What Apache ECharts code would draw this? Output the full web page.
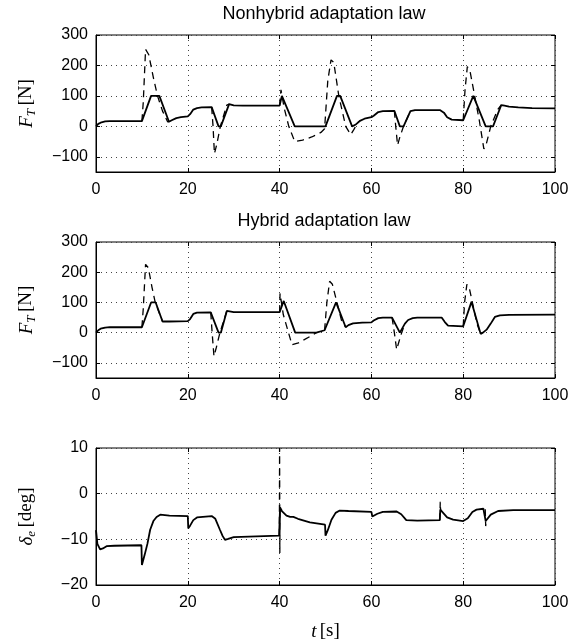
<!DOCTYPE html>
<html>
<head>
<meta charset="utf-8">
<script src="https://cdn.jsdelivr.net/npm/echarts@6/dist/echarts.min.js"></script>
<style>
html, body { margin: 0; padding: 0; background: #fff; }
#chart { width: 581px; height: 644px; }
</style>
</head>
<body>
<div id="chart"></div>
<script>
// time axis ticks (s)
const timeTicks = [0, 20, 40, 60, 80, 100];
const thrustTicks = [-100, 0, 100, 200, 300];
const elevTicks = [-20, -10, 0, 10];

// nonhybrid law: actual thrust (solid) and commanded thrust (dashed, only where it leaves the solid)
const nhThrust = [
    [0, 0], [0.5, 8], [1, 12], [2, 16], [3, 17], [10, 17], [12, 100], [13.8, 100], [15.9, 15],
    [16.5, 20], [17.5, 27], [18.5, 30], [20, 33], [20.5, 40], [21.2, 55], [22, 60], [23, 62],
    [25.2, 63], [26.7, 0], [27.2, 0], [29, 73], [30, 69], [32, 68], [40, 68], [40.5, 100],
    [43.3, 0], [50, 0], [52.5, 100], [53.2, 100], [55.8, 0], [56.5, 5], [57.5, 18], [58.5, 25],
    [60, 30], [60.5, 35], [61.5, 47], [62.5, 50], [65, 51], [66.2, 0], [67, 0], [68.5, 50],
    [69.5, 53], [75, 53], [75.8, 45], [76.5, 30], [77.5, 22], [80, 20], [82.2, 100], [84.9, 0],
    [86.5, 0], [88.3, 70], [89, 68], [90, 65], [92, 62], [95, 60], [100, 59]
];
const nhCommand = [
    [10, 17], [10.3, 80], [10.8, 253], [11.5, 235], [12.5, 160], [13.4, 100], [14.5, 50], [15.6, 15], [15.9, 15], ['-', '-'],
    [25.2, 63], [25.5, 0], [25.8, -90], [26.3, -60], [27.1, 0], [28.5, 70], [29, 73], ['-', '-'],
    [40, 68], [40.3, 120], [41, 60], [42, 0], [43.3, -50], [45, -45], [47, -35], [49, -20], [49.8, -8],
    [50.5, 150], [51.2, 218], [51.8, 210], [52.9, 100], [54.4, 0], [55.5, -27], [56.2, -10], [57, 12], [57.5, 18], ['-', '-'],
    [65, 51], [65.3, 0], [65.7, -62], [66.2, -35], [67, 0], [68.5, 50], ['-', '-'],
    [80, 20], [80.4, 120], [80.9, 196], [81.5, 180], [82.5, 100], [83.5, 20], [84.5, -74], [85, -60],
    [86, 0], [87.5, 55], [88.3, 70]
];

// hybrid law
const hThrust = [
    [0, 0], [0.5, 8], [1, 13], [2, 17], [3, 18], [10, 18], [12, 100], [13, 100], [14.5, 37], [16, 37],
    [20, 38], [20.5, 45], [21.2, 62], [22, 66], [25, 67], [26.7, 0], [27.2, 0], [28.5, 72], [30, 68],
    [40, 68], [40.9, 105], [43.4, 0], [48, 0], [49.8, 8], [52.3, 100], [54.4, 18], [55, 25], [56, 31],
    [58, 33], [60, 34], [60.5, 40], [61.5, 48], [62.5, 50], [64.5, 50], [66.2, 0], [66.6, 0], [67.3, 30],
    [68, 42], [69, 48], [70, 50], [75.3, 50], [76, 35], [76.7, 23], [80, 21], [81.8, 102], [83.8, -4],
    [84.3, 0], [85.1, 10], [86, 30], [86.9, 52], [88, 57], [90, 59], [100, 60]
];
const hCommand = [
    [10, 18], [10.3, 80], [10.8, 226], [11.4, 215], [12.2, 150], [12.9, 100], [14.5, 37], ['-', '-'],
    [25, 67], [25.3, 0], [25.7, -78], [26.2, -50], [27, 0], [28.5, 72], ['-', '-'],
    [40, 68], [40.1, 130], [40.8, 60], [42.7, -40], [44.1, -34], [46.7, -12], [48, 0], ['-', '-'],
    [49.8, 8], [50.3, 100], [50.9, 170], [51.5, 160], [52.5, 100], [53.5, 40], [54.4, 18], ['-', '-'],
    [64.5, 50], [65, 0], [65.5, -56], [66, -30], [66.6, 0], [67.3, 30], ['-', '-'],
    [80, 21], [80.3, 100], [80.8, 160], [81.3, 150], [82, 100], [83, 30], [83.8, -4]
];

// elevator deflection (deg)
const elevator = [
    [0, -8], [0.3, -11], [0.9, -12.2], [1.5, -12], [2.3, -11.5], [4, -11.4], [9.9, -11.3], [10, -15.6],
    [10.6, -13.4], [11.2, -11], [11.8, -7.9], [12.5, -6], [13.2, -5.1], [14, -4.6], [16, -4.8], [20, -4.9],
    [20.1, -7.6], [20.5, -7], [21.2, -5.8], [22, -5.2], [25.2, -4.9], [26, -5.5], [27, -7.9], [27.6, -9.3],
    [28.1, -10.1], [28.8, -9.9], [30, -9.5], [39.9, -9.2], [40.1, -3], [40.5, -3.8], [41.5, -4.8],
    [42.3, -5.1], [43, -5.1], [44, -5.5], [46.6, -6.3], [49.9, -6.8], [50, -9.2], [50.5, -8], [51.3, -5.7],
    [52.2, -4.2], [53.1, -3.7], [55, -3.8], [60, -4], [60.2, -5], [60.5, -5.1], [61.3, -4.4], [62.5, -4],
    [65.5, -3.9], [66.5, -4.5], [67.6, -5.8], [70, -5.9], [74.9, -5.8], [75, -3.5], [75.3, -3.8],
    [76.5, -5.2], [77.8, -5.7], [80, -6], [81, -5.4], [82, -4], [82.9, -3.5], [84.4, -3.3], [84.9, -6],
    [85.2, -5.7], [86, -4.6], [87.6, -3.8], [90.9, -3.6], [100, -3.6]
];
const elevCommand = [
    [39.95, -9.2], [40, 10], [40.05, -13], [40.1, -3], ['-', '-'],
    [74.9, -5.8], [75, -1.8], [75.1, -4], ['-', '-'],
    [84.8, -3.4], [84.9, -7.1], [85, -5.8]
];

const chart = echarts.init(document.getElementById('chart'));

const sans = 'Liberation Sans, Arial, sans-serif';
const serif = 'Liberation Serif, DejaVu Serif, serif';

function fmt(v) {
    return v < 0 ? '\u2212' + Math.abs(v) : String(v);
}

const grids = [
    { left: 96, right: 26, top: 35, height: 137 },
    { left: 96, right: 26, top: 242, height: 136 },
    { left: 96, right: 26, top: 448, height: 137 }
];

const nameRich = {
    i: { fontFamily: serif, fontStyle: 'italic', fontSize: 19, color: '#000' },
    s: { fontFamily: serif, fontStyle: 'italic', fontSize: 13, color: '#000', padding: [10, 0, 0, 0] },
    r: { fontFamily: serif, fontSize: 19, color: '#000' }
};

const gridLine = { show: true, lineStyle: { color: '#444', type: [1, 4], width: 1 } };
const tickStyle = { inside: true, length: 4, lineStyle: { color: '#000' } };

const xAxes = [];
const yAxes = [];

for (let g = 0; g < 3; g++) {

    const isElev = g === 2;

    xAxes.push({
        type: 'value', gridIndex: g, min: 0, max: 100, interval: 20,
        axisLine: { onZero: false, lineStyle: { color: '#000', width: 1 } },
        axisTick: tickStyle,
        axisLabel: { color: '#000', fontSize: 16, fontFamily: sans, margin: 10 },
        splitLine: gridLine,
        name: isElev ? '{i|t} {r|[s]}' : '',
        nameLocation: 'middle', nameGap: 37,
        nameTextStyle: { rich: nameRich }
    });
    xAxes.push({
        type: 'value', gridIndex: g, min: 0, max: 100, interval: 20, position: 'top',
        axisLine: { show: false, onZero: false },
        axisTick: tickStyle,
        axisLabel: { show: false }, splitLine: { show: false }
    });

    const yRange = isElev
        ? { min: -20, max: 10, interval: 10 }
        : { min: -150, max: 300 };

    yAxes.push(Object.assign({ type: 'value', gridIndex: g }, yRange, {
        axisLine: { show: true, onZero: false, lineStyle: { color: '#000', width: 1 } },
        axisTick: Object.assign({}, tickStyle, isElev ? {} : { customValues: thrustTicks }),
        axisLabel: Object.assign({ color: '#000', fontSize: 16, fontFamily: sans, margin: 8, formatter: fmt },
            isElev ? {} : { customValues: thrustTicks }),
        splitLine: gridLine,
        name: isElev ? '{i|\u03b4}{s|e} {r|[deg]}' : '{i|F}{s|T} {r|[N]}',
        nameLocation: 'middle', nameGap: 58, nameRotate: 90,
        nameTextStyle: { rich: nameRich }
    }));
    yAxes.push(Object.assign({ type: 'value', gridIndex: g, position: 'right' }, yRange, {
        axisLine: { show: false, onZero: false },
        axisTick: Object.assign({}, tickStyle, isElev ? {} : { customValues: thrustTicks }),
        axisLabel: { show: false }, splitLine: { show: false }
    }));
}

function line(data, g, dashed) {
    return {
        type: 'line', data: data, xAxisIndex: g * 2, yAxisIndex: g * 2,
        showSymbol: false, symbol: 'none', animation: false, connectNulls: false,
        lineStyle: { color: '#000', width: dashed ? 1.3 : 1.8, type: dashed ? [7, 5] : 'solid' },
        z: dashed ? 3 : 2
    };
}

const titleStyle = { fontFamily: sans, fontSize: 18, fontWeight: 'normal', color: '#000' };

chart.setOption({
    animation: false,
    backgroundColor: '#fff',
    title: [
        { text: 'Nonhybrid adaptation law', left: 324, top: 5, textAlign: 'center', padding: 0, textStyle: titleStyle },
        { text: 'Hybrid adaptation law', left: 324, top: 212, textAlign: 'center', padding: 0, textStyle: titleStyle }
    ],
    grid: grids.map(gr => Object.assign({ show: true, borderColor: '#000', borderWidth: 1, backgroundColor: 'transparent' }, gr)),
    xAxis: xAxes,
    yAxis: yAxes,
    series: [
        line(nhThrust, 0, false),
        line(nhCommand, 0, true),
        line(hThrust, 1, false),
        line(hCommand, 1, true),
        line(elevator, 2, false),
        line(elevCommand, 2, true)
    ]
});
</script>
</body>
</html>
